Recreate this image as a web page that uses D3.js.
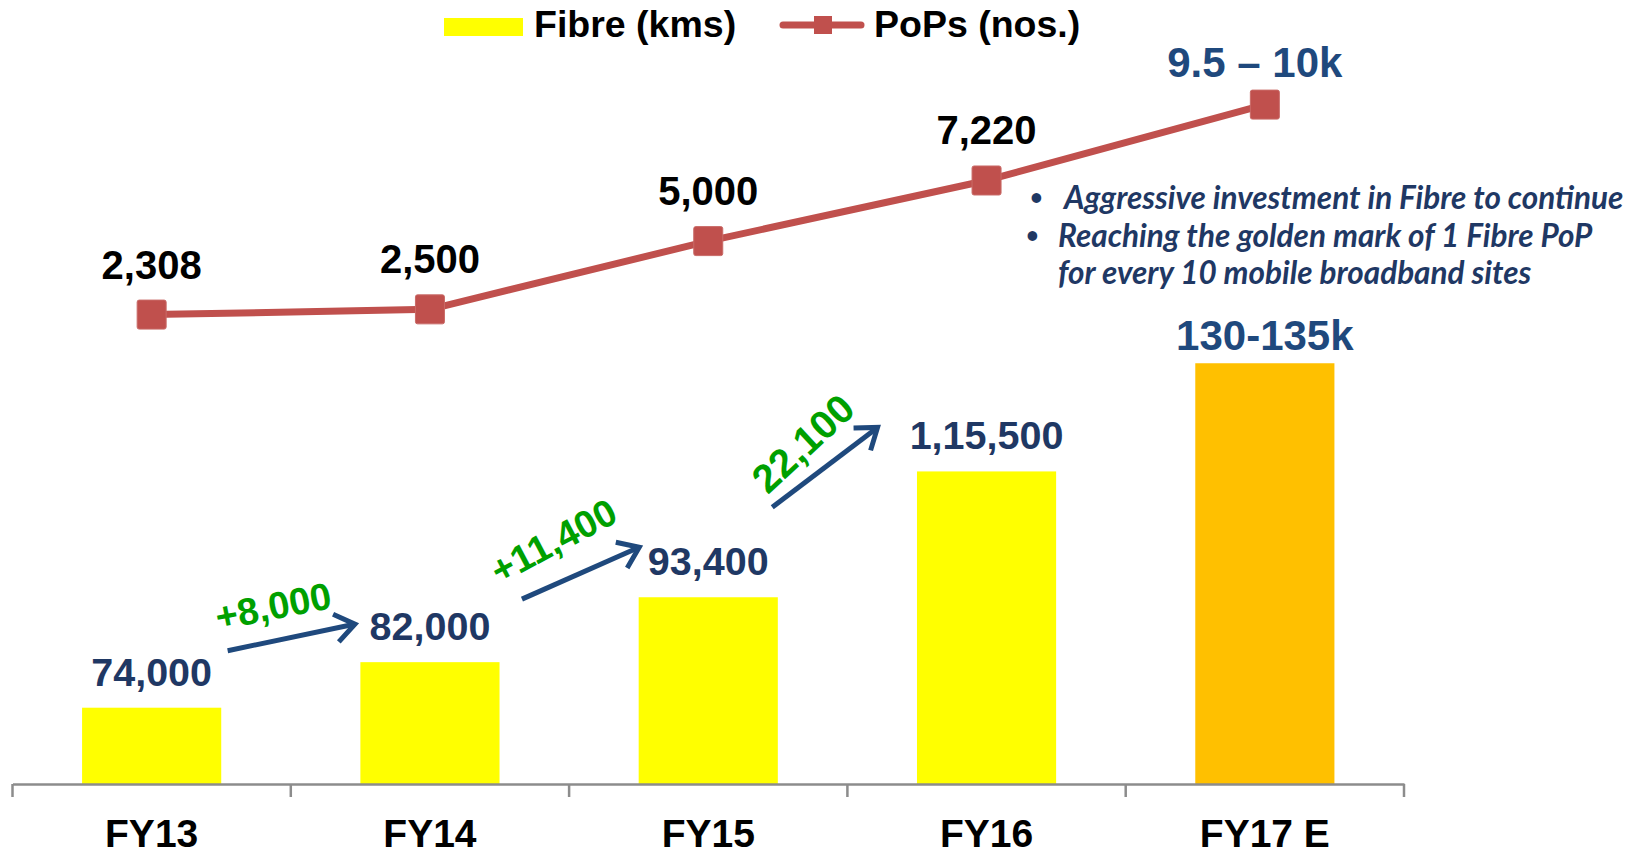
<!DOCTYPE html>
<html>
<head>
<meta charset="utf-8">
<script src="https://cdn.jsdelivr.net/npm/d3@7"></script>
<style>
  html, body { margin: 0; padding: 0; background: #fff; }
  svg { display: block; }
</style>
</head>
<body>
<svg id="chart" width="1639" height="855"></svg>
<script>
// ---- data ----
const categories = ["FY13", "FY14", "FY15", "FY16", "FY17 E"];
const fibreKms = [74000, 82000, 93400, 115500, 134500];
const fibreLabels = ["74,000", "82,000", "93,400", "1,15,500", "130-135k"];
const popsCount = [2308, 2500, 5000, 7220, 10000];
const popsLabels = ["2,308", "2,500", "5,000", "7,220", "9.5 – 10k"];
const growthLabels = ["+8,000", "+11,400", "22,100"];
const notes = [
  "Aggressive investment in Fibre to continue",
  "Reaching the golden mark of 1 Fibre PoP",
  "for every 10 mobile broadband sites"
];

// ---- styling ----
const BAR = "#FFFF00", BAR_EST = "#FFC000";
const LINE = "#C0504D";
const NAVY = "#1F3864", BLUE = "#1F497D", GREEN = "#00A000";
const FONT = "'Liberation Sans', Arial, sans-serif";

const svg = d3.select("#chart");

const x = d3.scaleBand().domain(categories).range([12.5, 1404]).padding(0);
const bw = x.bandwidth();
const cx = c => x(c) + bw / 2;
const last = categories.length - 1;
const yBar = d3.scaleLinear().domain([60600, 150000]).range([784, 275]);
const yPop = d3.scaleLinear().domain([0, 10000]).range([377.6, 104.6]);

// ---- bars ----
svg.append("g").selectAll("rect").data(categories).join("rect")
  .attr("x", c => x(c) + bw * 0.25)
  .attr("width", bw * 0.5)
  .attr("y", (c, i) => yBar(fibreKms[i]))
  .attr("height", (c, i) => yBar.range()[0] - yBar(fibreKms[i]))
  .attr("fill", (c, i) => i === last ? BAR_EST : BAR);

// ---- category axis ----
const axis = svg.append("g").attr("transform", "translate(0,784)")
  .call(d3.axisBottom(x).tickSize(0).tickPadding(35));
axis.select(".domain").attr("stroke", "#8c8c8c").attr("stroke-width", 2.5);
axis.selectAll(".tick text")
  .attr("font-family", FONT).attr("font-weight", "bold")
  .attr("font-size", 39).attr("fill", "#000");
const edges = categories.map(c => x(c)).concat([x.range()[1]]);
axis.selectAll("line.edge").data(edges).join("line")
  .attr("class", "edge")
  .attr("x1", d => d).attr("x2", d => d)
  .attr("y1", 0).attr("y2", 13)
  .attr("stroke", "#8c8c8c").attr("stroke-width", 2.5);

// ---- bar value labels ----
svg.append("g").selectAll("text").data(categories).join("text")
  .attr("x", c => cx(c))
  .attr("y", (c, i) => yBar(fibreKms[i]) - (i === last ? 13 : 22))
  .attr("text-anchor", "middle")
  .attr("font-family", FONT).attr("font-weight", "bold")
  .attr("font-size", (c, i) => i === last ? 42 : 39.5)
  .attr("fill", (c, i) => i === last ? BLUE : NAVY)
  .text((c, i) => fibreLabels[i]);

// ---- growth arrows between bars ----
// start / end offsets from each bar's centre and top
const arrowGeom = [
  { s: [76, -57], e: [-75, -38], lab: [-18, -31], rot: -11, fs: 38 },
  { s: [92, -63], e: [-69, -50], lab: [-27, -32], rot: -28, fs: 38 },
  { s: [64, -90], e: [-109, -44], lab: [-22, -24], rot: -43, fs: 40 }
];
const arrows = svg.append("g");
growthLabels.forEach((lab, i) => {
  const g = arrowGeom[i];
  const x1 = cx(categories[i]) + g.s[0], y1 = yBar(fibreKms[i]) + g.s[1];
  const x2 = cx(categories[i + 1]) + g.e[0], y2 = yBar(fibreKms[i + 1]) + g.e[1];
  const a = Math.atan2(y2 - y1, x2 - x1);
  const hl = 24, ha = Math.PI / 5;
  const p1 = [x2 - hl * Math.cos(a - ha), y2 - hl * Math.sin(a - ha)];
  const p2 = [x2 - hl * Math.cos(a + ha), y2 - hl * Math.sin(a + ha)];
  arrows.append("line")
    .attr("x1", x1).attr("y1", y1).attr("x2", x2 - 2 * Math.cos(a)).attr("y2", y2 - 2 * Math.sin(a))
    .attr("stroke", BLUE).attr("stroke-width", 5);
  arrows.append("path")
    .attr("d", `M${p1[0]},${p1[1]}L${x2},${y2}L${p2[0]},${p2[1]}`)
    .attr("fill", "none").attr("stroke", BLUE).attr("stroke-width", 5)
    .attr("stroke-linejoin", "miter");
  const mx = (x1 + x2) / 2 + g.lab[0], my = (y1 + y2) / 2 + g.lab[1];
  arrows.append("text")
    .attr("transform", `translate(${mx},${my}) rotate(${g.rot})`)
    .attr("text-anchor", "middle").attr("dominant-baseline", "central")
    .attr("font-family", FONT).attr("font-weight", "bold").attr("font-size", g.fs)
    .attr("fill", GREEN)
    .text(lab);
});

// ---- PoPs line ----
const line = d3.line().x((d, i) => cx(categories[i])).y(d => yPop(d));
svg.append("path").datum(popsCount)
  .attr("d", line).attr("fill", "none")
  .attr("stroke", LINE).attr("stroke-width", 7).attr("stroke-linejoin", "round");
const ms = 29;
svg.append("g").selectAll("rect").data(popsCount).join("rect")
  .attr("x", (d, i) => cx(categories[i]) - ms / 2)
  .attr("y", d => yPop(d) - ms / 2)
  .attr("width", ms).attr("height", ms).attr("rx", 2)
  .attr("fill", LINE).attr("stroke", "#c96a67").attr("stroke-width", 1);
svg.append("g").selectAll("text").data(popsCount).join("text")
  .attr("x", (d, i) => cx(categories[i]) - (i === last ? 10 : 0))
  .attr("y", (d, i) => yPop(d) - (i === last ? 28 : 36))
  .attr("text-anchor", "middle")
  .attr("font-family", FONT).attr("font-weight", "bold")
  .attr("font-size", (d, i) => i === last ? 42 : 40)
  .attr("fill", (d, i) => i === last ? BLUE : "#000")
  .text((d, i) => popsLabels[i]);

// ---- notes ----
const noteG = svg.append("g").attr("font-family", "Lato, 'Open Sans', sans-serif")
  .attr("font-style", "italic").attr("font-weight", "bold").attr("font-size", 31.5)
  .attr("fill", NAVY);
const noteRows = [
  { bx: 1030, tx: 1064, y: 209, bullet: true },
  { bx: 1026, tx: 1058, y: 247, bullet: true },
  { bx: 0, tx: 1058, y: 284, bullet: false }
];
notes.forEach((t, i) => {
  const r = noteRows[i];
  if (r.bullet) noteG.append("text").attr("x", r.bx).attr("y", r.y - 4)
    .attr("font-style", "normal").attr("font-size", 22).text("•");
  noteG.append("text").attr("x", r.tx).attr("y", r.y).text(t);
});

// ---- legend ----
const legend = svg.append("g").attr("font-family", FONT).attr("font-weight", "bold")
  .attr("font-size", 37.5).attr("fill", "#000");
legend.append("rect").attr("x", 444).attr("y", 18).attr("width", 79).attr("height", 18).attr("fill", BAR);
legend.append("text").attr("x", 534).attr("y", 37).text("Fibre (kms)");
legend.append("line").attr("x1", 783).attr("x2", 861).attr("y1", 25).attr("y2", 25)
  .attr("stroke", LINE).attr("stroke-width", 7).attr("stroke-linecap", "round");
legend.append("rect").attr("x", 814).attr("y", 16).attr("width", 18).attr("height", 18).attr("fill", LINE);
legend.append("text").attr("x", 874).attr("y", 37).text("PoPs (nos.)");
</script>
</body>
</html>
